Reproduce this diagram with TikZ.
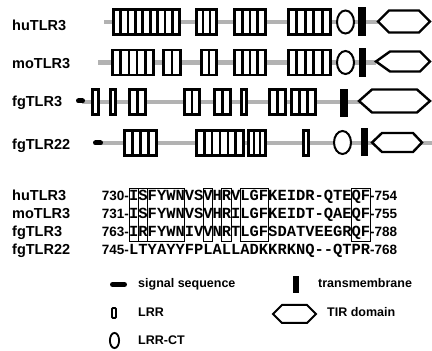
\documentclass[tikz,border=0pt]{standalone}
\usepackage{fontspec}
\setmainfont{Liberation Sans}
\newfontfamily\resfont{Liberation Mono}
\tikzset{
 bb/.style={line width=4.5pt, draw=gray!60},
 lrrcell/.style={draw=black, fill=white, line width=2.7pt},
 ctoval/.style={draw=black, fill=white, line width=2pt},
 tmbar/.style={fill=black},
 tirhex/.style={draw=black, fill=white, line width=2.4pt, line join=miter},
 sigseq/.style={line width=5pt, line cap=round, draw=black},
 lab/.style={font=\bfseries\fontsize{14.5}{16}\selectfont, anchor=base west, inner sep=0pt},
 num/.style={font=\bfseries\fontsize{13.5}{15}\selectfont, inner sep=0pt},
 res/.style={font=\resfont\bfseries\fontsize{15.45}{17}\selectfont, anchor=base west, inner sep=0pt},
 leg/.style={font=\bfseries\fontsize{12.5}{14}\selectfont, anchor=base west, inner sep=0pt},
 cons/.style={draw=black, line width=0.9pt},
}
\newcommand{\lrrgrp}[4]{%
 \pgfmathsetmacro{\lrrw}{(#2-#1-2.7)/#3}%
 \foreach \k in {1,...,#3}{%
   \pgfmathsetmacro{\lrra}{#1+1.35+(\k-1)*\lrrw}%
   \pgfmathsetmacro{\lrrb}{\lrra+\lrrw}%
   \draw[lrrcell] (\lrra,#4-12.6) rectangle (\lrrb,#4+12.6);
 }}
\newcommand{\tirhx}[6]{\draw[tirhex] (#1,#5) -- (#2,#5+#6) -- (#3,#5+#6) -- (#4,#5) -- (#3,#5-#6) -- (#2,#5-#6) -- cycle;}
\newcommand{\consbox}[2]{\draw[cons] (129+#1*9.27,110) rectangle (129+#2*9.27,163);}
\begin{document}
\begin{tikzpicture}[x=1pt,y=1pt]
\fill[white] (0,0) rectangle (432,351);
\useasboundingbox (0,0) rectangle (432,351);
% ---- row labels
\node[lab] (l1) at (12,320) {huTLR3};
\node[lab] (l2) at (12,282) {moTLR3};
\node[lab] (l3) at (12,244) {fgTLR3};
\node[lab] (l4) at (12,201) {fgTLR22};
% ---- row 1
\draw[bb] (104,329) -- (378,329);
\lrrgrp{112}{181}{9}{329}
\lrrgrp{195}{218}{3}{329}
\lrrgrp{233}{267}{4}{329}
\lrrgrp{287}{332}{5}{329}
\draw[ctoval] (345.5,329) ellipse [x radius=8.5, y radius=11.5];
\fill[tmbar] (358,315) rectangle (366,344);
\tirhx{378}{389}{419}{430}{329.5}{11}
% ---- row 2
\draw[bb] (98,288.5) -- (376,288.5);
\lrrgrp{111}{155}{5}{288.5}
\lrrgrp{162}{182}{2}{288.5}
\lrrgrp{200}{218}{2}{288.5}
\lrrgrp{233}{267}{4}{288.5}
\lrrgrp{287}{332}{5}{288.5}
\draw[ctoval] (345.5,288.5) ellipse [x radius=8.5, y radius=11.5];
\fill[tmbar] (359,274) rectangle (366,303);
\tirhx{376}{390}{420}{430}{289.5}{10}
% ---- row 3
\draw[bb] (82,249) -- (360,249);
\draw[sigseq] (78.5,250) -- (82.5,250);
\lrrgrp{91}{100}{1}{249}
\lrrgrp{109}{117}{1}{249}
\lrrgrp{128}{147}{2}{249}
\lrrgrp{183}{201}{2}{249}
\lrrgrp{213}{232}{2}{249}
\lrrgrp{240}{248}{1}{249}
\lrrgrp{268}{287}{2}{249}
\lrrgrp{290}{317}{3}{249}
\fill[tmbar] (340,234) rectangle (348,262);
\tirhx{359}{372}{417}{430}{250}{11.5}
% ---- row 4
\draw[bb] (100,208) -- (432,208);
\draw[sigseq] (95.5,208) -- (100.5,208);
\lrrgrp{123}{158}{4}{208}
\lrrgrp{195}{245}{6}{208}
\lrrgrp{247}{267}{3}{208}
\lrrgrp{302}{310}{1}{208}
\draw[ctoval] (342.5,208.5) ellipse [x radius=8.5, y radius=11.5];
\fill[tmbar] (361,195) rectangle (368,223);
\tirhx{372}{382}{413}{422}{208.5}{9.5}
% ---- alignment
\node[lab] (a1) at (12,150) {huTLR3};
\node[lab] (a2) at (12,132) {moTLR3};
\node[lab] (a3) at (12,114) {fgTLR3};
\node[lab] (a4) at (12,96) {fgTLR22};
\node[num, anchor=base east] (n1) at (129,150) {730-};
\node[num, anchor=base east] (n2) at (129,132) {731-};
\node[num, anchor=base east] (n3) at (129,114) {763-};
\node[num, anchor=base east] (n4) at (129,96) {745-};
\node[res] (r1) at (129,150) {ISFYWNVSVHRVLGFKEIDR-QTEQF};
\node[res] (r2) at (129,132) {ISFYWNVSVHRILGFKEIDT-QAEQF};
\node[res] (r3) at (129,114) {IRFYWNIVVNRTLGFSDATVEEGRQF};
\node[res] (r4) at (129,96) {LTYAYYFPLALLADKKRKNQ--QTPR};
\node[num, anchor=base west] (e1) at (370,150) {-754};
\node[num, anchor=base west] (e2) at (370,132) {-755};
\node[num, anchor=base west] (e3) at (370,114) {-788};
\node[num, anchor=base west] (e4) at (370,96) {-768};
\consbox{0}{1}
\consbox{1}{2}
\consbox{2}{6}
\consbox{8}{9}
\consbox{10}{11}
\consbox{12}{15}
\consbox{24}{26}
% ---- legend
\draw[sigseq] (112.5,66.5) -- (124.5,66.5);
\node[leg] (g1) at (138,63) {signal sequence};
\draw[lrrcell, line width=1.8pt, rounded corners=1pt] (112,33) rectangle (116,43);
\node[leg] (g2) at (138,34) {LRR};
\draw[ctoval, line width=1.8pt] (114.5,10.5) ellipse [x radius=4.6, y radius=7.6];
\node[leg] (g3) at (138,6) {LRR-CT};
\fill[tmbar] (293,58) rectangle (299,75);
\node[leg] (g4) at (318,63) {transmembrane};
\draw[tirhex, line width=2pt] (273,37) -- (282,46) -- (307,46) -- (316,37) -- (307,28) -- (282,28) -- cycle;
\node[leg] (g5) at (327,34) {TIR domain};
\end{tikzpicture}
\end{document}
